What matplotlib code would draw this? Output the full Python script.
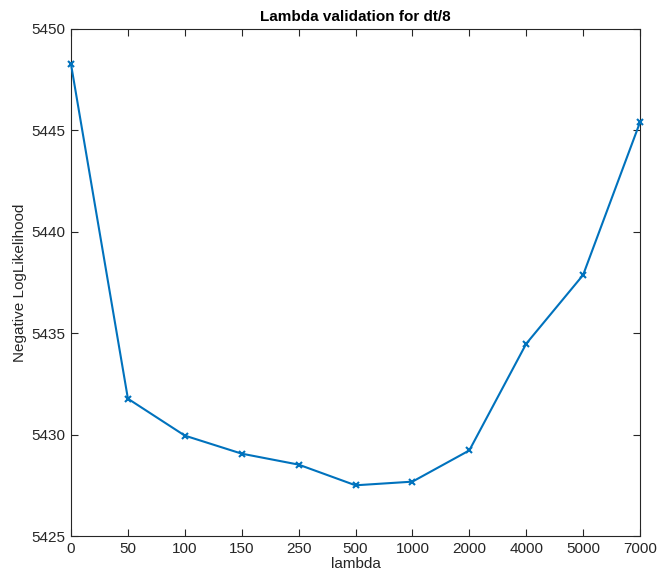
import matplotlib
matplotlib.use('Agg')
import matplotlib.pyplot as plt

# lambda values tried and the resulting validation cost
lambdas = ['0', '50', '100', '150', '250', '500', '1000', '2000', '4000', '5000', '7000']
neg_loglik = [5448.26, 5431.77, 5429.95, 5429.06, 5428.52, 5427.50,
              5427.68, 5429.22, 5434.48, 5437.87, 5445.40]

plt.rcParams['font.family'] = ['Liberation Sans', 'DejaVu Sans']

fig = plt.figure(figsize=(6.6, 5.74), dpi=100)
ax = fig.add_axes([0.1076, 0.0662, 0.8621, 0.8833])

pos = list(range(len(lambdas)))
ax.plot(pos, neg_loglik, color='#0072BD', linewidth=1.5, marker='x',
        markersize=5, markeredgewidth=1.5, clip_on=False, zorder=3)

ax.set_xlim(0, len(lambdas) - 1)
ax.set_ylim(5425, 5450)
ax.set_xticks(pos)
ax.set_xticklabels(lambdas)
ax.set_yticks([5425, 5430, 5435, 5440, 5445, 5450])

axis_col = '#262626'
for s in ax.spines.values():
    s.set_color(axis_col)
    s.set_linewidth(0.8)
ax.tick_params(direction='in', top=True, right=True, length=5, width=0.8,
               colors=axis_col, labelsize=11, pad=4)

ax.set_xlabel('lambda', fontsize=11, color=axis_col, labelpad=1)
ax.set_ylabel('Negative LogLikelihood', fontsize=11, color=axis_col, labelpad=3)
ax.set_title('Lambda validation for dt/8', fontsize=11, fontweight='bold', pad=6)

fig.savefig('out.png', dpi=100)
